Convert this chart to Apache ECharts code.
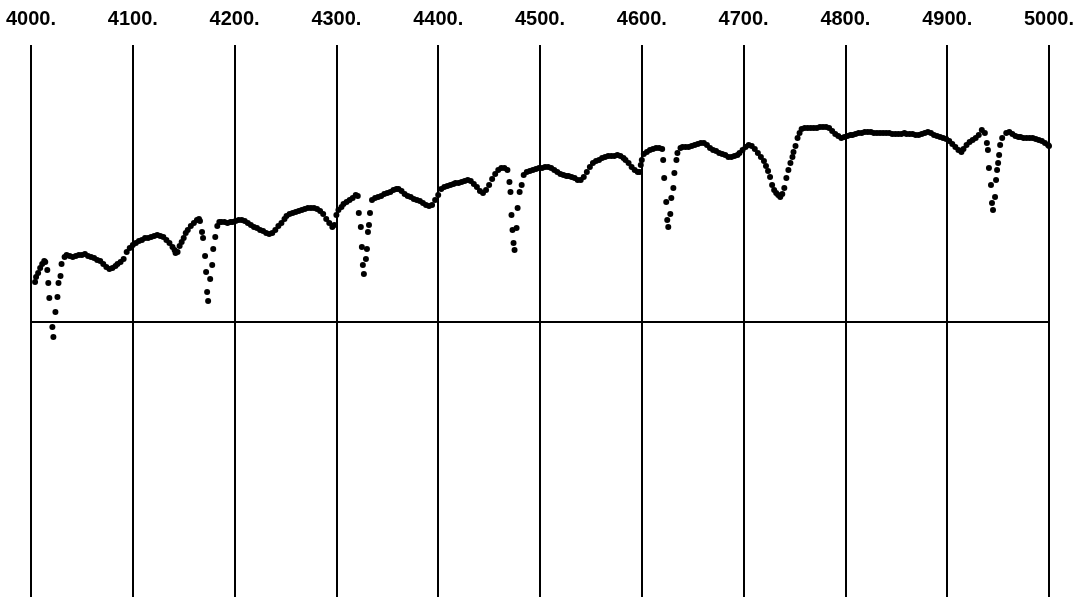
<!DOCTYPE html>
<html>
<head>
<meta charset="utf-8">
<script src="https://cdn.jsdelivr.net/npm/echarts@6/dist/echarts.min.js"></script>
<style>
html,body{margin:0;padding:0;background:#fff;}
#chart{width:1085px;height:601px;}
</style>
</head>
<body>
<div id="chart"></div>
<script>
// x axis ticks (wavelength)
const xTicks = [4000,4100,4200,4300,4400,4500,4600,4700,4800,4900,5000];
// spectrum: [wavelength, relative flux]
const spectrum = [
[4004,0.40],[4005,0.45],[4007,0.49],[4009,0.54],[4011,0.58],[4013,0.61],[4014,0.60],[4016,0.52],[4017,0.39],[4018,0.24],[4021,-0.05],[4022,-0.15],[4024,0.10],[4026,0.25],[4027,0.39],[4029,0.46],[4030,0.58],[4033,0.65],
[4035,0.67],[4038,0.66],[4041,0.65],[4044,0.66],[4047,0.67],[4050,0.67],[4053,0.68],[4056,0.66],[4059,0.65],[4062,0.64],[4065,0.62],[4068,0.61],[4071,0.58],[4074,0.55],[4077,0.53],[4080,0.54],[4083,0.56],[4085,0.58],[4088,0.60],[4091,0.63],[4094,0.70],[4097,0.74],[4100,0.77],
[4103,0.79],[4106,0.81],[4109,0.82],[4112,0.84],[4115,0.84],[4118,0.85],[4121,0.86],[4124,0.87],[4127,0.86],[4130,0.85],[4133,0.82],[4136,0.79],[4139,0.75],[4141,0.72],[4142,0.69],[4144,0.70],[4146,0.76],[4148,0.80],[4150,0.84],[4152,0.89],[4154,0.92],[4157,0.96],[4160,0.99],[4163,1.02],[4165,1.03],[4166,1.01],
[4168,0.90],[4169,0.84],[4171,0.66],[4172,0.50],[4173,0.30],[4174,0.21],[4176,0.43],[4178,0.57],[4179,0.73],[4181,0.85],[4183,0.96],[4185,1.00],
[4187,1.00],[4190,1.00],[4193,0.99],[4196,1.00],[4198,1.00],[4201,1.01],[4204,1.02],[4207,1.02],[4210,1.01],[4213,0.99],[4216,0.97],[4219,0.95],[4222,0.94],[4225,0.92],[4228,0.91],[4231,0.89],[4234,0.88],[4237,0.89],[4240,0.92],[4243,0.96],[4246,0.99],[4249,1.03],[4251,1.06],[4254,1.08],[4257,1.09],[4260,1.10],[4263,1.11],[4266,1.12],[4269,1.13],[4272,1.14],[4275,1.14],[4278,1.14],[4281,1.13],[4284,1.11],[4287,1.08],[4290,1.03],[4293,0.99],[4296,0.95],[4298,0.97],[4300,1.07],[4302,1.12],[4305,1.15],[4307,1.18],[4310,1.20],[4313,1.22],[4316,1.24],[4319,1.27],[4321,1.26],
[4322,1.09],[4324,0.95],[4325,0.75],[4326,0.57],[4327,0.48],[4329,0.63],[4330,0.73],[4331,0.90],[4332,0.97],[4333,1.09],[4335,1.22],
[4338,1.24],[4341,1.25],[4344,1.26],[4347,1.28],[4350,1.29],[4353,1.30],[4356,1.32],[4359,1.33],[4361,1.33],[4364,1.31],[4367,1.28],[4370,1.26],[4373,1.25],[4376,1.23],[4379,1.22],[4382,1.21],[4385,1.19],[4388,1.17],[4391,1.16],[4394,1.17],[4397,1.22],[4400,1.27],[4403,1.33],[4406,1.35],[4409,1.36],[4412,1.37],[4415,1.38],[4417,1.39],[4420,1.39],[4423,1.40],[4426,1.41],[4429,1.42],[4432,1.41],[4435,1.38],[4438,1.35],[4441,1.31],[4444,1.29],[4447,1.32],[4450,1.37],[4453,1.43],[4456,1.48],[4459,1.52],[4462,1.54],[4465,1.54],[4468,1.52],
[4470,1.40],[4471,1.30],[4472,1.07],[4473,0.92],[4474,0.79],[4475,0.72],[4477,0.94],[4478,1.14],[4480,1.30],[4482,1.37],[4484,1.47],[4487,1.50],
[4490,1.51],[4493,1.52],[4496,1.53],[4499,1.54],[4502,1.54],[4505,1.55],[4508,1.55],[4511,1.54],[4514,1.52],[4517,1.50],[4520,1.48],[4523,1.47],[4526,1.46],[4528,1.46],[4531,1.45],[4534,1.44],[4537,1.42],[4540,1.42],[4543,1.45],[4546,1.50],[4549,1.55],[4552,1.59],[4555,1.61],[4558,1.62],[4561,1.64],[4564,1.65],[4567,1.66],[4570,1.66],[4573,1.66],[4576,1.67],[4579,1.66],[4582,1.64],[4584,1.62],[4587,1.59],[4590,1.55],[4593,1.52],[4596,1.50],[4598,1.50],[4599,1.57],[4600,1.62],[4602,1.68],[4605,1.70],[4608,1.72],[4611,1.73],[4614,1.74],[4617,1.74],[4620,1.73],
[4621,1.62],[4622,1.44],[4624,1.20],[4625,1.02],[4626,0.95],[4628,1.08],[4629,1.24],[4631,1.34],[4632,1.49],[4634,1.62],[4635,1.69],[4638,1.74],
[4640,1.75],[4643,1.75],[4646,1.75],[4649,1.76],[4652,1.77],[4655,1.78],[4658,1.79],[4661,1.79],[4664,1.77],[4667,1.74],[4670,1.72],[4673,1.71],[4676,1.69],[4679,1.68],[4682,1.67],[4685,1.65],[4688,1.65],[4691,1.66],[4694,1.67],[4696,1.69],[4699,1.72],[4702,1.75],[4705,1.77],[4708,1.76],[4711,1.73],[4714,1.69],[4717,1.65],[4720,1.61],[4722,1.56],[4724,1.51],[4726,1.45],[4728,1.37],[4730,1.32],[4732,1.29],[4734,1.27],[4736,1.25],[4738,1.28],[4740,1.34],[4742,1.44],[4744,1.52],[4746,1.59],[4748,1.65],[4749,1.70],[4751,1.76],[4753,1.84],[4755,1.89],[4757,1.93],
[4760,1.94],[4763,1.94],[4766,1.94],[4769,1.94],[4772,1.94],[4775,1.95],[4778,1.95],[4781,1.95],[4784,1.94],[4787,1.91],[4790,1.88],[4793,1.86],[4796,1.84],[4799,1.85],[4802,1.86],[4805,1.87],[4807,1.87],[4810,1.88],[4813,1.89],[4816,1.89],[4819,1.90],[4822,1.90],[4825,1.90],[4828,1.89],[4831,1.89],[4834,1.89],[4837,1.89],[4840,1.89],[4843,1.89],[4846,1.88],[4849,1.88],[4852,1.88],[4855,1.88],[4858,1.89],[4860,1.88],[4863,1.88],[4866,1.88],[4869,1.87],[4872,1.87],[4875,1.88],[4878,1.89],[4881,1.90],[4884,1.89],[4887,1.87],[4890,1.86],[4893,1.85],[4896,1.84],[4899,1.83],[4902,1.81],[4905,1.78],[4908,1.75],[4911,1.72],[4914,1.70],[4916,1.73],[4919,1.77],[4922,1.80],[4925,1.82],[4928,1.84],[4931,1.87],[4934,1.92],[4937,1.89],
[4939,1.79],[4940,1.72],[4941,1.54],[4943,1.37],[4944,1.19],[4945,1.12],[4947,1.25],[4948,1.42],[4949,1.52],[4950,1.59],[4951,1.67],[4952,1.77],[4954,1.84],
[4958,1.89],[4961,1.90],[4964,1.88],[4967,1.86],[4970,1.85],[4972,1.85],[4975,1.84],[4978,1.84],[4981,1.84],[4984,1.84],[4987,1.83],[4990,1.82],[4993,1.81],[4996,1.79],[4999,1.77],[5000,1.76]
];
const zeroLevel = 0;

const chart = echarts.init(document.getElementById('chart'), null, {renderer: 'canvas'});
chart.setOption({
  animation: false,
  backgroundColor: '#ffffff',
  grid: {left: 31, right: 36, top: 45, bottom: 4},
  xAxis: {
    type: 'value',
    position: 'top',
    min: xTicks[0],
    max: xTicks[xTicks.length - 1],
    interval: 100,
    axisLine: {show: false},
    axisTick: {show: false},
    splitLine: {show: true, lineStyle: {color: '#000', width: 2}},
    axisLabel: {
      show: true,
      margin: 16,
      color: '#000',
      fontFamily: 'Liberation Sans',
      fontWeight: 'bold',
      fontSize: 20,
      formatter: v => v.toFixed(0) + '.'
    }
  },
  yAxis: {
    type: 'value',
    min: -2.75,
    max: 2.77,
    show: false,
    splitLine: {show: false}
  },
  series: [{
    type: 'scatter',
    data: spectrum,
    symbol: 'circle',
    symbolSize: 6,
    clip: false,
    itemStyle: {color: '#000', opacity: 1},
    emphasis: {disabled: true},
    markLine: {
      silent: true,
      symbol: ['none', 'none'],
      label: {show: false},
      lineStyle: {color: '#000', width: 2, type: 'solid'},
      data: [{yAxis: zeroLevel}]
    }
  }]
});
</script>
</body>
</html>
